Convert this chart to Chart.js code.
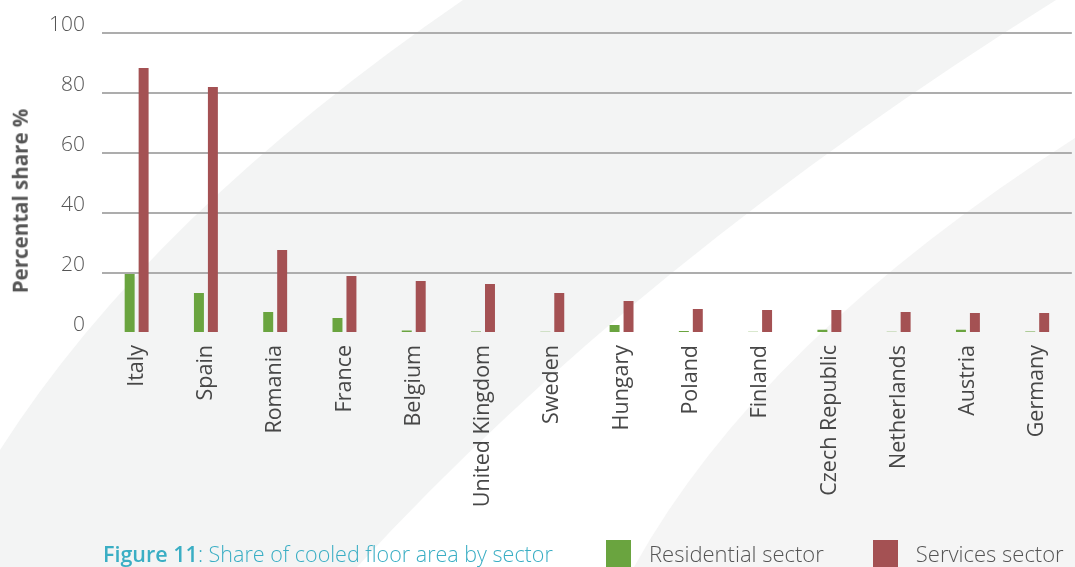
<!DOCTYPE html>
<html>
<head>
<meta charset="utf-8">
<script src="https://cdn.jsdelivr.net/npm/chart.js@4.4.1/dist/chart.umd.min.js"></script>
<style>
  html, body { margin: 0; padding: 0; background: #fff; overflow: hidden; }
  #wrap { position: relative; width: 1075px; height: 567px; font-family: "Open Sans", sans-serif; }
  #ytitle { position: absolute; left: 19.5px; top: 201px; transform: translate(-50%, -50%) rotate(-90deg);
    font-size: 20.5px; font-weight: 700; color: #555; white-space: nowrap; line-height: 1; }
  #caption { position: absolute; left: 103px; top: 539px; font-size: 21.5px; font-weight: 300; color: #3aaec4; white-space: nowrap; }
  #caption b { font-weight: 600; }
  #legend { position: absolute; left: 606px; top: 538px; display: flex; white-space: nowrap; }
  .item { display: flex; align-items: flex-start; margin-right: 49px; font-size: 22px; font-weight: 300; color: #555; }
  .swatch { width: 25px; height: 30px; margin-right: 18px; margin-top: 2px; }
</style>
</head>
<body>
<div id="wrap">
  <canvas id="chart"></canvas>
  <div id="ytitle">Percental share %</div>
  <div id="caption"><b>Figure 11</b>: Share of cooled floor area by sector</div>
  <div id="legend"></div>
</div>
<script>
  const countries = ['Italy', 'Spain', 'Romania', 'France', 'Belgium', 'United Kingdom', 'Sweden',
    'Hungary', 'Poland', 'Finland', 'Czech Republic', 'Netherlands', 'Austria', 'Germany'];
  const residential = [19.7, 13.3, 7, 5, 0.8, 0.5, 0.4, 2.7, 0.7, 0.4, 1.1, 0.4, 1.1, 0.5];
  const services = [88.3, 82, 27.7, 19, 17.3, 16.3, 13.3, 10.7, 8, 7.7, 7.7, 7, 6.7, 6.7];
  const yTicks = [0, 20, 40, 60, 80, 100];

  const green = '#6aa43f';
  const red = '#a45153';

  // light grey swooshes behind the plot
  const backdrop = {
    id: 'backdrop',
    beforeDraw(chart) {
      const ctx = chart.ctx;
      ctx.save();
      ctx.fillStyle = '#fff';
      ctx.fillRect(0, 0, chart.width, chart.height);
      ctx.fillStyle = '#f3f4f4';
      ctx.beginPath();
      ctx.moveTo(0, 450);
      ctx.quadraticCurveTo(150, 215, 463, 0);
      ctx.lineTo(1056, 0);
      ctx.quadraticCurveTo(640, 260, 357, 567);
      ctx.lineTo(0, 567);
      ctx.closePath();
      ctx.fill();
      ctx.fillStyle = '#f5f5f5';
      ctx.beginPath();
      ctx.moveTo(1075, 138);
      ctx.quadraticCurveTo(760, 340, 634, 567);
      ctx.lineTo(1075, 567);
      ctx.closePath();
      ctx.fill();
      ctx.restore();
    }
  };

  const datasets = [
    { label: 'Residential sector', data: residential, backgroundColor: green },
    { label: 'Services sector', data: services, backgroundColor: red }
  ];

  const chart = new Chart(document.getElementById('chart'), {
    type: 'bar',
    data: { labels: countries, datasets: datasets },
    options: {
      responsive: true,
      maintainAspectRatio: false,
      animation: false,
      datasets: { bar: { categoryPercentage: 0.403, barPercentage: 0.714 } },
      layout: { padding: { top: 33, right: 0, bottom: 0, left: 0 } },
      plugins: { legend: { display: false }, tooltip: { enabled: false } },
      scales: {
        x: {
          grid: { display: false, drawTicks: false },
          border: { display: false },
          ticks: {
            color: '#474747',
            font: { family: 'Open Sans', size: 21.5, weight: 400 },
            minRotation: 90,
            maxRotation: 90,
            autoSkip: false,
            padding: 12
          },
          afterFit(scale) { scale.height = 234; }
        },
        y: {
          min: 0,
          max: 100,
          afterBuildTicks(scale) { scale.ticks = yTicks.map(v => ({ value: v })); },
          grid: {
            color: c => (c.tick && c.tick.value === 0) ? 'rgba(0,0,0,0)' : '#adadad',
            lineWidth: 2,
            drawTicks: false
          },
          border: { display: false },
          ticks: {
            color: '#555',
            font: { family: 'Open Sans', size: 21, weight: 300 },
            padding: 17,
            labelOffset: -8
          },
          afterFit(scale) { scale.width = 102; }
        }
      }
    },
    plugins: [backdrop]
  });

  // html legend under the plot
  const legend = document.getElementById('legend');
  datasets.forEach(ds => {
    const item = document.createElement('div');
    item.className = 'item';
    item.innerHTML = '<span class="swatch" style="background:' + ds.backgroundColor + '"></span>' + ds.label;
    legend.appendChild(item);
  });
</script>
</body>
</html>
